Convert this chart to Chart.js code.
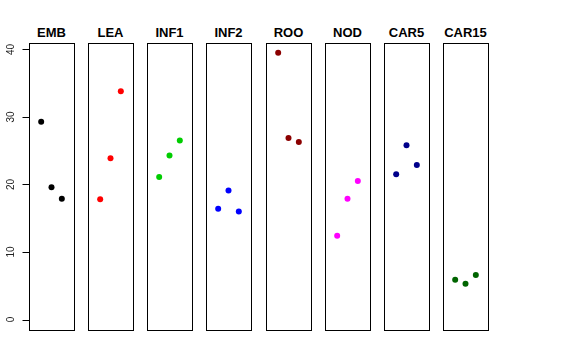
<!DOCTYPE html>
<html>
<head>
<meta charset="utf-8">
<script src="https://cdn.jsdelivr.net/npm/chart.js@4"></script>
<style>
  body { margin: 0; background: #fff; }
  #wrap { position: relative; width: 576px; height: 360px; overflow: hidden; }
  canvas { position: absolute; }
  .title {
    position: absolute; top: 26px; width: 80px; text-align: center;
    font: bold 13px/13px "Liberation Sans", Arial, sans-serif; color: #000;
  }
</style>
</head>
<body>
<div id="wrap"></div>
<script>
const categories = ['EMB', 'LEA', 'INF1', 'INF2', 'ROO', 'NOD', 'CAR5', 'CAR15'];
const positions = [1, 2, 3];
const EMB = [29.3, 19.6, 17.9];
const LEA = [17.8, 23.9, 33.8];
const INF1 = [21.1, 24.3, 26.5];
const INF2 = [16.4, 19.1, 16.0];
const ROO = [39.5, 26.9, 26.3];
const NOD = [12.4, 17.9, 20.5];
const CAR5 = [21.5, 25.8, 22.9];
const CAR15 = [5.9, 5.3, 6.6];
const seriesValues = [EMB, LEA, INF1, INF2, ROO, NOD, CAR5, CAR15];
const colors = ['#000000', '#ff0000', '#00cd00', '#0000ff', '#8b0000', '#ff00ff', '#00008b', '#006400'];
const yTicks = [0, 10, 20, 30, 40];

const wrap = document.getElementById('wrap');
const panelLeft0 = 29, panelStep = 59.15, panelW = 45;
const panelTop = 43, panelH = 287;

// box around each panel
const boxPlugin = {
    id: 'box',
    afterDraw(chart) {
        const a = chart.chartArea, ctx = chart.ctx;
        ctx.save();
        ctx.strokeStyle = '#000';
        ctx.lineWidth = 1;
        ctx.strokeRect(a.left + 0.5, a.top + 0.5, a.right - a.left, a.bottom - a.top);
        ctx.restore();
    }
};

// R style left axis with rotated labels (first panel only)
const yAxisPlugin = {
    id: 'rAxis',
    afterDraw(chart) {
        const y = chart.scales.y, ctx = chart.ctx, x0 = chart.chartArea.left + 0.5;
        ctx.save();
        ctx.strokeStyle = '#000';
        ctx.fillStyle = '#222';
        ctx.lineWidth = 1;
        ctx.beginPath();
        ctx.moveTo(x0, Math.round(y.getPixelForValue(yTicks[0])) + 0.5);
        ctx.lineTo(x0, Math.round(y.getPixelForValue(yTicks[yTicks.length - 1])) + 0.5);
        yTicks.forEach(t => {
            const py = Math.round(y.getPixelForValue(t)) + 0.5;
            ctx.moveTo(x0 - 7, py);
            ctx.lineTo(x0, py);
        });
        ctx.stroke();
        ctx.font = '10px "Liberation Sans", Arial, sans-serif';
        ctx.textAlign = 'center';
        ctx.textBaseline = 'middle';
        yTicks.forEach(t => {
            const py = y.getPixelForValue(t);
            ctx.save();
            ctx.translate(x0 - 18, py);
            ctx.rotate(-Math.PI / 2);
            ctx.fillText(String(t), 0, 0);
            ctx.restore();
        });
        ctx.restore();
    }
};

categories.forEach((name, i) => {
    const left = Math.round(panelLeft0 + panelStep * i);
    const first = i === 0;
    const padLeft = first ? left : 1;
    const cv = document.createElement('canvas');
    const w = panelW + padLeft + 2;
    const h = panelH + 3;
    cv.width = w; cv.height = h;
    cv.style.left = (left - padLeft) + 'px';
    cv.style.top = (panelTop - 1) + 'px';
    cv.style.width = w + 'px';
    cv.style.height = h + 'px';
    wrap.appendChild(cv);

    const t = document.createElement('div');
    t.className = 'title';
    t.textContent = name;
    t.style.left = (left + panelW / 2 - 40) + 'px';
    wrap.appendChild(t);

    new Chart(cv.getContext('2d'), {
        type: 'scatter',
        data: {
            datasets: [{
                label: name,
                data: positions.map((p, k) => ({ x: p, y: seriesValues[i][k] })),
                backgroundColor: colors[i],
                borderColor: colors[i],
                pointRadius: 3,
                borderWidth: 0
            }]
        },
        options: {
            responsive: false,
            animation: false,
            devicePixelRatio: 1,
            layout: { autoPadding: false, padding: { left: padLeft, right: 2, top: 1, bottom: 2 } },
            scales: {
                x: { type: 'linear', display: false, min: -0.18, max: 4.18 },
                y: { type: 'linear', display: false, min: -1.55, max: 40.95 }
            },
            plugins: {
                legend: { display: false },
                tooltip: { enabled: false }
            }
        },
        plugins: first ? [boxPlugin, yAxisPlugin] : [boxPlugin]
    });
});
</script>
</body>
</html>
